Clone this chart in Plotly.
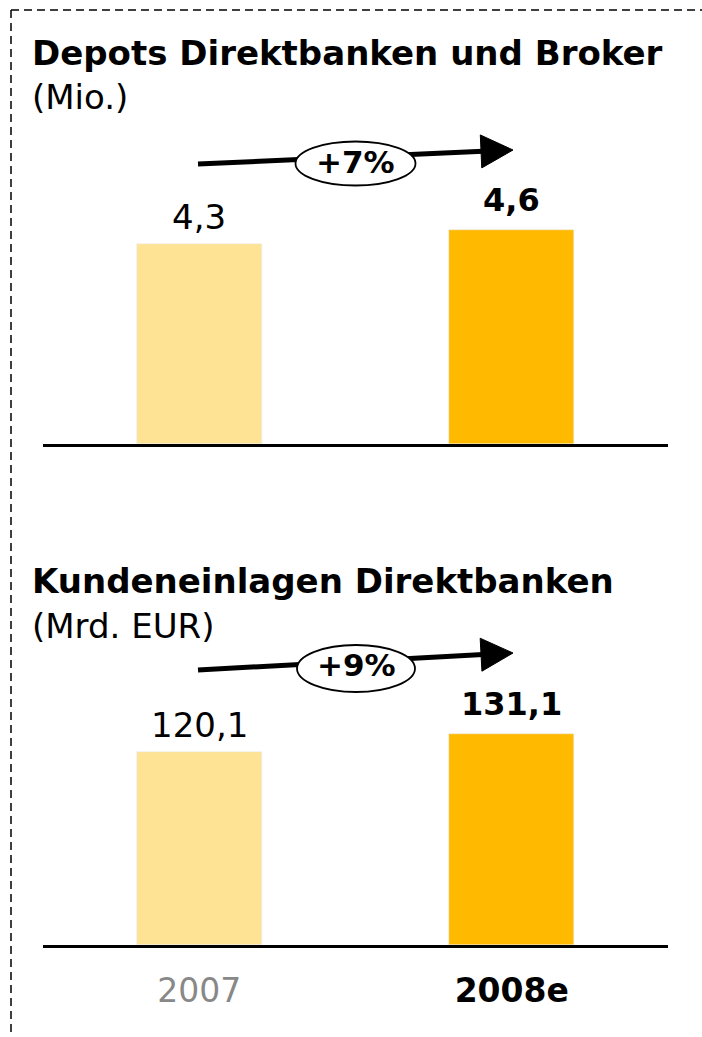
import plotly.graph_objects as go

# ---------------- data ----------------
categories = ["2007", "2008e"]
depots_values = [4.3, 4.6]            # Mio.
einlagen_values = [120.1, 131.1]      # Mrd. EUR
depots_growth = "+7%"
einlagen_growth = "+9%"
title_depots = "Depots Direktbanken und Broker"
unit_depots = "(Mio.)"
title_einlagen = "Kundeneinlagen Direktbanken"
unit_einlagen = "(Mrd. EUR)"
tick_labels = ["2007", "2008e"]

# ---------------- style ----------------
W, H = 702, 1037
FONT = "DejaVu Sans"
LIGHT = "#FFE394"
ORANGE = "#FFBA00"
bar_colors = [LIGHT, ORANGE]


def px(x):
    return x / W


def py(y):
    return 1 - y / H


def fmt(v):
    return f"{v:.1f}".replace(".", ",")


fig = go.Figure()

fig.add_trace(go.Bar(x=categories, y=depots_values, marker_color=bar_colors,
                     width=0.4, xaxis="x", yaxis="y", hoverinfo="skip"))
fig.add_trace(go.Bar(x=categories, y=einlagen_values, marker_color=bar_colors,
                     width=0.4, xaxis="x2", yaxis="y2", hoverinfo="skip"))

xdom = [px(43), px(668)]
fig.update_layout(
    width=W, height=H,
    margin=dict(l=0, r=0, t=0, b=0),
    paper_bgcolor="white", plot_bgcolor="white",
    showlegend=False,
    bargap=0,
    font=dict(family=FONT, color="black"),
    xaxis=dict(domain=xdom, anchor="y", type="category", range=[-0.5, 1.5],
               showline=True, linecolor="black", linewidth=2.5,
               showticklabels=False, ticks="", showgrid=False, zeroline=False,
               fixedrange=True),
    yaxis=dict(domain=[py(444), py(130)], anchor="x", range=[0, 314 / 46.6],
               visible=False, fixedrange=True),
    xaxis2=dict(domain=xdom, anchor="y2", type="category", range=[-0.5, 1.5],
                showline=True, linecolor="black", linewidth=2.5,
                tickvals=categories,
                ticktext=["<span style='color:#888888'>" + tick_labels[0] + "</span>",
                          "<b>" + tick_labels[1] + "</b>"],
                tickfont=dict(family=FONT, size=33, color="black"),
                ticks="", ticklabelstandoff=15,
                showgrid=False, zeroline=False, fixedrange=True),
    yaxis2=dict(domain=[py(945), py(630)], anchor="x2", range=[0, 315 / 1.607],
                visible=False, fixedrange=True),
)

annotations = []
# titles
for txt, ycap in [(title_depots, 53), (title_einlagen, 581)]:
    annotations.append(dict(text="<b>" + txt + "</b>", x=px(30), y=py(ycap),
                            xref="paper", yref="paper", xanchor="left", yanchor="middle",
                            showarrow=False, font=dict(family=FONT, size=34)))
for txt, ycap in [(unit_depots, 97), (unit_einlagen, 626)]:
    annotations.append(dict(text=txt, x=px(30), y=py(ycap),
                            xref="paper", yref="paper", xanchor="left", yanchor="middle",
                            showarrow=False, font=dict(family=FONT, size=34)))

# value labels (x given as category index)
for vals, xr, yr in [(depots_values, "x", "y"), (einlagen_values, "x2", "y2")]:
    for i, v in enumerate(vals):
        bold = i == 1
        annotations.append(dict(
            text=("<b>" + fmt(v) + "</b>") if bold else fmt(v),
            x=i, y=v, xref=xr, yref=yr, xanchor="center", yanchor="middle",
            yshift=30 if bold else 27, showarrow=False,
            font=dict(family=FONT, size=32 if bold else 34)))

shapes = []
# dashed frame
shapes.append(dict(type="line", xref="paper", yref="paper", x0=px(11), x1=px(11),
                   y0=py(10), y1=py(H), line=dict(color="black", width=1.5, dash="8px,5px")))
shapes.append(dict(type="line", xref="paper", yref="paper", x0=px(11), x1=px(W),
                   y0=py(10), y1=py(10), line=dict(color="black", width=1.5, dash="8px,5px")))

# growth arrows with ellipse badges
for (sx, sy, tx, ty, ecx, ecy, ew, eh, tcy, label) in [
        (198, 164, 513, 150, 355.5, 163.5, 120, 44, 162, depots_growth),
        (198, 670, 513, 653, 356, 668.5, 118, 47, 664.5, einlagen_growth)]:
    dx, dy = tx - sx, ty - sy
    L = (dx ** 2 + dy ** 2) ** 0.5
    ux, uy = dx / L, dy / L
    nx, ny = -uy, ux
    bx, by = tx - 32 * ux, ty - 32 * uy
    shapes.append(dict(type="line", xref="paper", yref="paper",
                       x0=px(sx), y0=py(sy), x1=px(bx + 2 * ux), y1=py(by + 2 * uy),
                       line=dict(color="black", width=5)))
    c1 = (bx + 16.5 * nx, by + 16.5 * ny)
    c2 = (bx - 16.5 * nx, by - 16.5 * ny)
    path = (f"M {px(tx)},{py(ty)} L {px(c1[0])},{py(c1[1])} "
            f"L {px(c2[0])},{py(c2[1])} Z")
    shapes.append(dict(type="path", xref="paper", yref="paper", path=path,
                       fillcolor="black", line=dict(color="black", width=1)))
    shapes.append(dict(type="circle", xref="paper", yref="paper",
                       x0=px(ecx - ew / 2), x1=px(ecx + ew / 2),
                       y0=py(ecy + eh / 2), y1=py(ecy - eh / 2),
                       fillcolor="white", line=dict(color="black", width=1.8)))
    annotations.append(dict(text="<b>" + label + "</b>", x=px(ecx), y=py(tcy),
                            xref="paper", yref="paper", xanchor="center", yanchor="middle",
                            showarrow=False, font=dict(family=FONT, size=31)))

fig.update_layout(annotations=annotations, shapes=shapes)
fig.write_html("out.html", config={"displayModeBar": False},
               post_script="document.body.style.margin='0';document.body.style.overflow='hidden';")
